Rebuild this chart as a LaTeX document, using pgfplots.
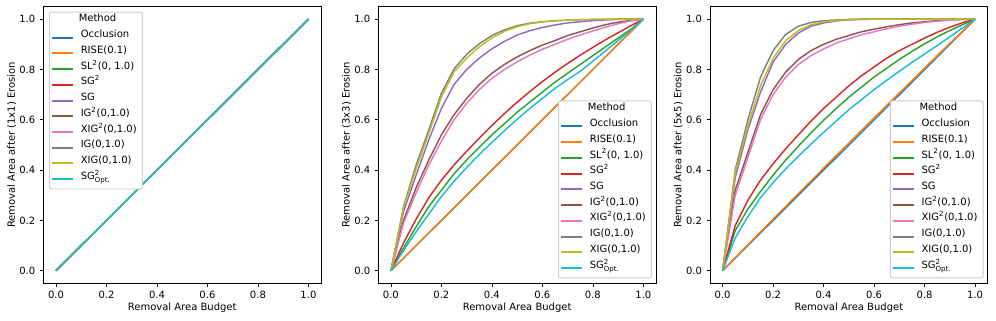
\documentclass[border=0pt]{standalone}
\usepackage{pgfplots}
\usepackage{pgfplotstable}
\usepackage{amsmath}
\usepackage{fontspec}
\setmainfont{DejaVu Sans}
\pgfplotsset{compat=1.18}

\definecolor{tabblue}{HTML}{1F77B4}
\definecolor{taborange}{HTML}{FF7F0E}
\definecolor{tabgreen}{HTML}{2CA02C}
\definecolor{tabred}{HTML}{D62728}
\definecolor{tabpurple}{HTML}{9467BD}
\definecolor{tabbrown}{HTML}{8C564B}
\definecolor{tabpink}{HTML}{E377C2}
\definecolor{tabgray}{HTML}{7F7F7F}
\definecolor{tabolive}{HTML}{BCBD22}
\definecolor{tabcyan}{HTML}{17BECF}

\pgfplotstableread{
x occ rise sl sgs sg igs xigs ig xig opt
0 0 0 0 0 0 0 0 0 0 0
1 1 1 1 1 1 1 1 1 1 1
}\dataA

\pgfplotstableread{
x    occ  rise  sl    sgs   sg    igs   xigs  ig     xig   opt
0.00 0.00 0.00  0.000 0.000 0.000 0.000 0.000 0.000  0.000 0.000
0.05 0.05 0.05  0.090 0.110 0.235 0.200 0.190 0.255  0.250 0.080
0.10 0.10 0.10  0.175 0.205 0.380 0.330 0.310 0.420  0.405 0.155
0.15 0.15 0.15  0.255 0.290 0.520 0.440 0.420 0.560  0.545 0.225
0.20 0.20 0.20  0.320 0.360 0.645 0.540 0.515 0.705  0.690 0.295
0.25 0.25 0.25  0.385 0.420 0.740 0.620 0.600 0.802  0.790 0.355
0.30 0.30 0.30  0.440 0.475 0.800 0.685 0.665 0.860  0.845 0.410
0.35 0.35 0.35  0.490 0.527 0.845 0.740 0.720 0.902  0.890 0.462
0.40 0.40 0.40  0.540 0.577 0.882 0.785 0.765 0.935  0.925 0.510
0.45 0.45 0.45  0.585 0.625 0.912 0.820 0.800 0.958  0.952 0.557
0.50 0.50 0.50  0.630 0.670 0.937 0.850 0.830 0.974  0.970 0.602
0.55 0.55 0.55  0.670 0.712 0.954 0.875 0.857 0.984  0.982 0.645
0.60 0.60 0.60  0.710 0.752 0.967 0.897 0.880 0.990  0.989 0.685
0.65 0.65 0.65  0.750 0.789 0.977 0.915 0.900 0.994  0.993 0.725
0.70 0.70 0.70  0.785 0.824 0.985 0.935 0.920 0.996  0.996 0.760
0.75 0.75 0.75  0.820 0.857 0.990 0.950 0.937 0.998  0.998 0.793
0.80 0.80 0.80  0.855 0.888 0.994 0.965 0.953 0.999  0.999 0.833
0.85 0.85 0.85  0.890 0.918 0.997 0.978 0.968 0.9995 1.000 0.874
0.90 0.90 0.90  0.925 0.946 0.999 0.988 0.982 1.000  1.000 0.915
0.95 0.95 0.95  0.960 0.974 1.000 0.995 0.993 1.000  1.000 0.957
1.00 1.00 1.00  1.000 1.000 1.000 1.000 1.000 1.000  1.000 1.000
}\dataB

\pgfplotstableread{
x    occ  rise  sl    sgs   sg    igs   xigs  ig    xig   opt
0.00 0.00 0.000 0.000 0.000 0.000 0.000 0.000 0.000 0.000 0.000
0.05 0.05 0.052 0.160 0.180 0.370 0.320 0.300 0.400 0.390 0.130
0.10 0.10 0.103 0.245 0.280 0.560 0.470 0.450 0.600 0.575 0.215
0.15 0.15 0.154 0.315 0.360 0.710 0.620 0.600 0.770 0.735 0.290
0.20 0.20 0.205 0.380 0.425 0.830 0.720 0.700 0.875 0.845 0.350
0.25 0.25 0.256 0.440 0.485 0.900 0.790 0.770 0.940 0.915 0.405
0.30 0.30 0.307 0.495 0.540 0.945 0.840 0.820 0.972 0.955 0.455
0.35 0.35 0.357 0.548 0.595 0.972 0.875 0.855 0.987 0.978 0.503
0.40 0.40 0.408 0.598 0.645 0.985 0.900 0.882 0.994 0.990 0.550
0.45 0.45 0.458 0.645 0.690 0.993 0.920 0.905 0.997 0.995 0.595
0.50 0.50 0.508 0.690 0.735 0.997 0.935 0.922 0.999 0.998 0.640
0.55 0.55 0.558 0.730 0.775 0.999 0.950 0.938 1.000 0.999 0.680
0.60 0.60 0.608 0.770 0.810 1.000 0.960 0.950 1.000 1.000 0.720
0.65 0.65 0.657 0.805 0.845 1.000 0.970 0.962 1.000 1.000 0.757
0.70 0.70 0.707 0.840 0.875 1.000 0.978 0.972 1.000 1.000 0.793
0.75 0.75 0.756 0.872 0.900 1.000 0.985 0.980 1.000 1.000 0.828
0.80 0.80 0.806 0.902 0.925 1.000 0.990 0.987 1.000 1.000 0.862
0.85 0.85 0.855 0.930 0.948 1.000 0.994 0.992 1.000 1.000 0.895
0.90 0.90 0.904 0.955 0.968 1.000 0.997 0.996 1.000 1.000 0.930
0.95 0.95 0.952 0.978 0.986 1.000 0.999 0.999 1.000 1.000 0.965
1.00 1.00 1.000 1.000 1.000 1.000 1.000 1.000 1.000 1.000 1.000
}\dataC

\pgfplotsset{
  panel/.style={
    scale only axis, width=208.3pt, height=207.5pt,
    xmin=-0.05, xmax=1.05, ymin=-0.05, ymax=1.05,
    xtick={0,0.2,0.4,0.6,0.8,1}, ytick={0,0.2,0.4,0.6,0.8,1},
    tick align=outside, tick pos=left, major tick length=2.5pt,
    every tick/.style={black, line width=0.57pt},
    axis line style={line width=0.57pt},
    font=\fontsize{7.5}{9}\selectfont,
    /pgf/number format/assume math mode=true,
    xticklabel style={/pgf/number format/.cd, fixed, fixed zerofill, precision=1},
    yticklabel style={/pgf/number format/.cd, fixed, fixed zerofill, precision=1},
    xlabel={Removal Area Budget},
    xlabel style={at={(axis description cs:0.5,-0.089)}, anchor=center},
    ylabel style={at={(axis description cs:-0.114,0.5)}, anchor=center},
    legend cell align=left,
    legend image code/.code={\draw[##1, line width=1.5pt] (0pt,0pt) -- (15.75pt,0pt);},
    legend style={draw=black!20, line width=0.7pt, fill=white,
      rounded corners=1.5pt, font=\fontsize{7.5}{9}\selectfont,
      row sep=0pt, column sep=4.2pt,
      nodes={inner xsep=1pt, inner ysep=0pt, text height=6pt, text depth=5.8pt},
      inner xsep=1pt, inner ysep=1.46pt},
    every axis plot/.append style={line width=1.07pt, line join=round},
  },
}

\newcommand{\allplots}[1]{%
  \addlegendimage{empty legend}\addlegendentry{\hspace*{-1.5pt}Method}
  \addplot[tabblue] table[x=x,y=occ]{#1}; \addlegendentry{Occlusion}
  \addplot[taborange] table[x=x,y=rise]{#1}; \addlegendentry{RISE(0.1)}
  \addplot[tabgreen] table[x=x,y=sl]{#1}; \addlegendentry{SL$^{\text{2}}$(0, 1.0)}
  \addplot[tabred] table[x=x,y=sgs]{#1}; \addlegendentry{SG$^{\text{2}}$}
  \addplot[tabpurple] table[x=x,y=sg]{#1}; \addlegendentry{SG}
  \addplot[tabbrown] table[x=x,y=igs]{#1}; \addlegendentry{IG$^{\text{2}}$(0,1.0)}
  \addplot[tabpink] table[x=x,y=xigs]{#1}; \addlegendentry{XIG$^{\text{2}}$(0,1.0)\hspace*{2.2pt}}
  \addplot[tabgray] table[x=x,y=ig]{#1}; \addlegendentry{IG(0,1.0)}
  \addplot[tabolive] table[x=x,y=xig]{#1}; \addlegendentry{XIG(0,1.0)}
  \addplot[tabcyan] table[x=x,y=opt]{#1}; \addlegendentry{SG$^{\text{2}}_{\text{Opt.}}$}
}

\begin{document}
\begin{tikzpicture}
\useasboundingbox (0,0) rectangle (747pt,240.75pt);
\begin{axis}[panel, at={(32.5pt,28.3pt)}, anchor=south west,
  ylabel={Removal Area after (1x1) Erosion},
  legend style={at={(axis description cs:0.0206,0.982)}, anchor=north west}]
\allplots{\dataA}
\end{axis}
\begin{axis}[panel, at={(283.7pt,28.3pt)}, anchor=south west,
  ylabel={Removal Area after (3x3) Erosion},
  legend style={at={(axis description cs:0.985,0.018)}, anchor=south east}]
\allplots{\dataB}
\end{axis}
\begin{axis}[panel, at={(532.5pt,28.3pt)}, anchor=south west,
  ylabel={Removal Area after (5x5) Erosion},
  legend style={at={(axis description cs:0.985,0.018)}, anchor=south east}]
\allplots{\dataC}
\end{axis}
\end{tikzpicture}
\end{document}
